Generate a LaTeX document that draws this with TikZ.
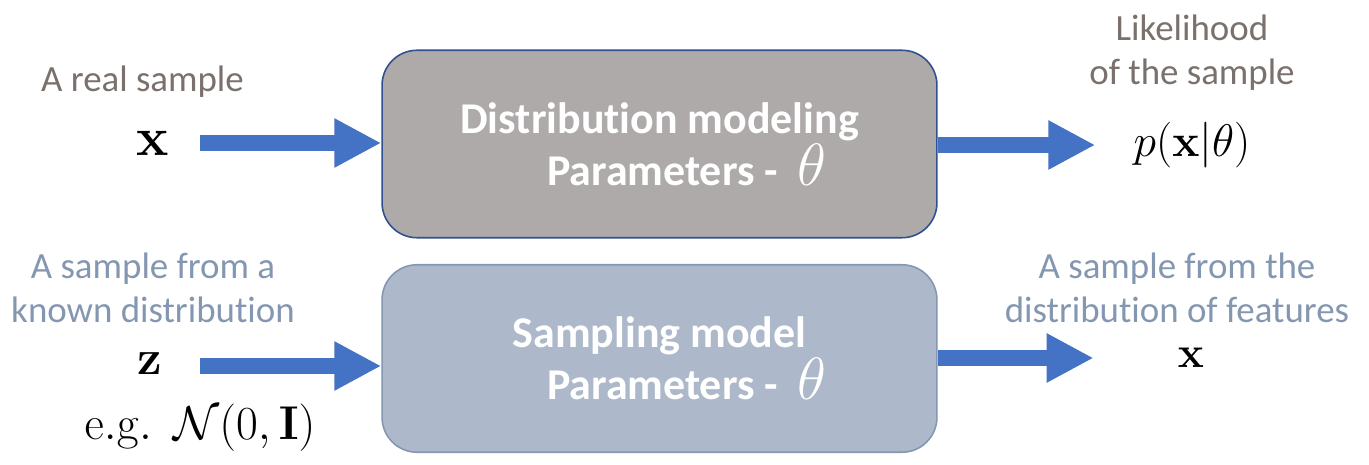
\RequirePackage{fix-cm}
\documentclass[tikz,border=0pt]{standalone}
\usepackage[fleqn]{amsmath}
\usepackage{amssymb}
\usepackage[no-math]{fontspec}
\setmainfont{Carlito}[Ligatures=NoCommon]
\usepackage{tikz}
\usetikzlibrary{arrows.meta}
\usetikzlibrary{shapes}

\definecolor{flowblue}{HTML}{4472C4}
\definecolor{greyfill}{HTML}{AEAAAA}
\definecolor{greyline}{HTML}{2F528F}
\definecolor{bluefill}{HTML}{ADB9CA}
\definecolor{blueline}{HTML}{8497B0}
\definecolor{greytext}{HTML}{7A716C}
\definecolor{bluetext}{HTML}{8497B0}

\begin{document}
\begin{tikzpicture}[x=0.02cm, y=-0.02cm, >=Triangle]
    \tikzstyle{model} = [draw, line width=0.9pt, rounded corners=0.7cm,
	minimum width=11.1cm, minimum height=3.75cm, text=white, align=center,
	font=\fontsize{25}{29.6}\selectfont\bfseries]
    \tikzstyle{note} = [inner sep=0pt, anchor=base, align=center,
	font=\fontsize{21}{25.6}\selectfont]
    \tikzstyle{sym} = [inner sep=0pt]
    \tikzstyle{flow} = [draw=flowblue, line width=0.31cm,
	-{Triangle[length=0.94cm, width=0.92cm]}]

	\useasboundingbox (0,0) rectangle (1369,465);

	% the two models
	\path
		node[model, fill=greyfill, draw=greyline] (dm) at (659.5,144)
			{Distribution modeling\\ \hspace*{1.1cm}Parameters -\ \ %
			{\fontsize{34}{34}\selectfont$\theta$}}
		node[model, fill=bluefill, draw=blueline] (sm) at (659.5,358.5)
			{\raisebox{-2pt}{Sampling model}\\ \hspace*{1.1cm}\raisebox{-2pt}{Parameters -\ \ %
			{\fontsize{34}{34}\selectfont$\theta$}}}
	;

	% inputs and outputs
	\path
		node[sym, font=\fontsize{31}{31}\selectfont] (xin) at (153,143) {$\mathbf{x}$}
		node[sym, font=\fontsize{26}{26}\selectfont] (pxt) at (1192,145) {$p(\mathbf{x}|\theta)$}
		node[sym, font=\fontsize{28}{28}\selectfont] (zin) at (150,364) {$\mathbf{z}$}
		node[sym, font=\fontsize{27}{27}\selectfont] (eg) at (200,428)
			{$\mathrm{e.g.}\ \ \mathcal{N}(0,\mathbf{I})$}
		node[sym, font=\fontsize{25}{25}\selectfont] (xout) at (1191,358) {$\mathbf{x}$}

		node[note, text=greytext] (real) at (142.5,92) {A real sample}
		node[note, text=greytext] (lik) at (1192,85) {Likelihood\\ of the sample}
		node[note, text=bluetext] (known) at (153,323) {A sample from a\\ known distribution}
		node[note, text=bluetext] (feat) at (1177,323) {A sample from the\\ distribution of features}
	;

	% block arrows
	\draw[flow, shorten <=0.61cm] (xin.east) -- (xin.east -| dm.west);
	\draw[flow, shorten >=0.76cm] (dm.east |- pxt) -- (pxt.west);
	\draw[flow, shorten <=0.75cm] ([yshift=-0.04cm]zin.east) -- ([yshift=-0.04cm]zin.east -| sm.west);
	\draw[flow, shorten >=1.68cm] (sm.east |- xout) -- (xout.west);
\end{tikzpicture}
\end{document}
